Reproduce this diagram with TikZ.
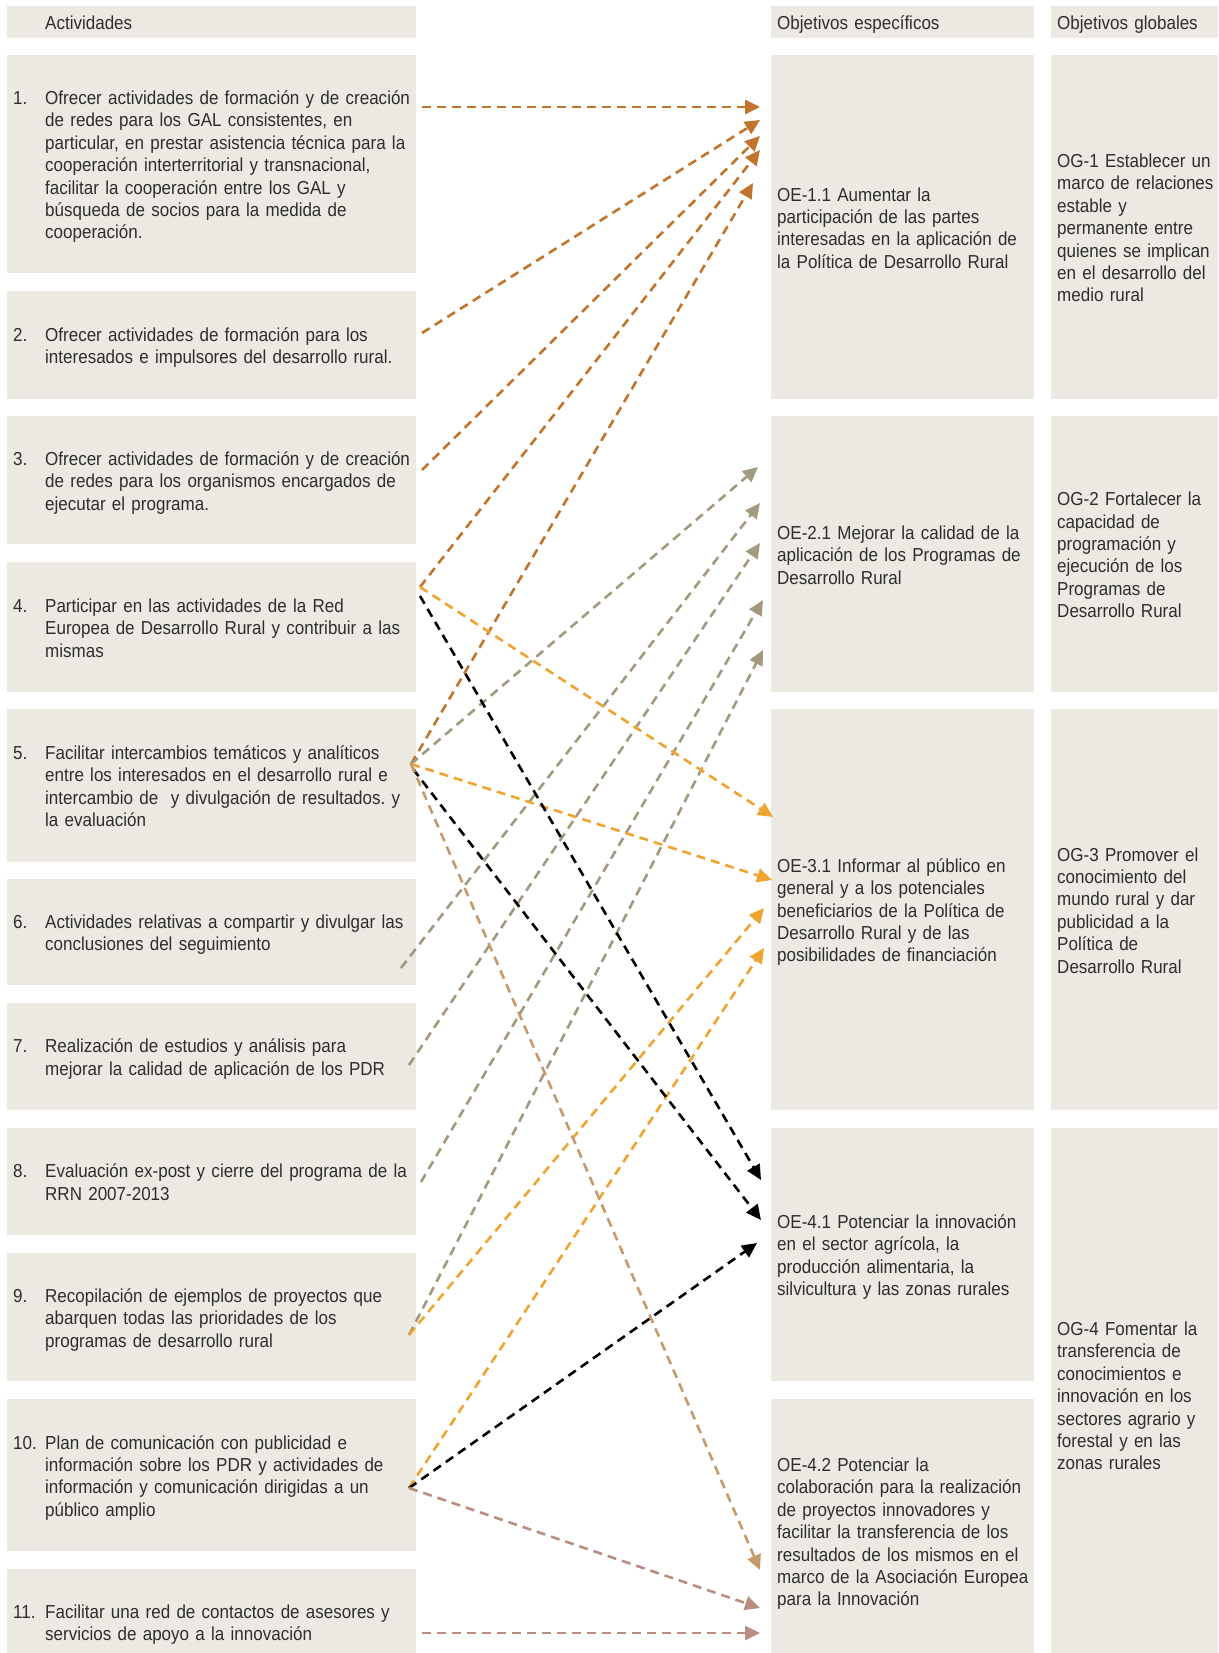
\documentclass[tikz,border=0pt]{standalone}
\usepackage{fontspec}
\setmainfont{Liberation Sans}[FakeStretch=0.905]
\usetikzlibrary{arrows.meta}

\definecolor{boxfill}{RGB}{236,233,227}
\definecolor{txt}{RGB}{45,45,45}
\definecolor{copper}{RGB}{192,116,44}
\definecolor{khaki}{RGB}{163,153,126}
\definecolor{amber}{RGB}{240,164,48}
\definecolor{sand}{RGB}{196,154,110}
\definecolor{rosy}{RGB}{185,142,128}

\frenchspacing
\newcommand{\actlines}[1]{\raisebox{-3pt}[\height][\depth]{\begin{tabular}{@{}p{32pt}@{}l@{}}#1\end{tabular}}}
\newcommand{\oblines}[1]{\raisebox{-3pt}[\height][\depth]{\begin{tabular}{@{}l@{}}#1\end{tabular}}}

\begin{document}
\begin{tikzpicture}[x=1pt, y=-1pt,
  box/.style={fill=boxfill, text=txt, inner xsep=6pt, inner ysep=0pt, anchor=north west, align=left, font=\fontsize{18.8}{22.4}\selectfont},
  actcol/.style={box, text width=397pt},
  oecol/.style={box, text width=251pt},
  ogcol/.style={box, text width=155pt},
  lnk/.style={line width=2.6pt, dash pattern=on 9pt off 6pt, -{Triangle[length=15pt,width=14pt]}}]
  \clip (0,0) rectangle (1218,1653);
  \fill[white] (0,0) rectangle (1218,1653);

  \node[actcol, minimum height=32] (hAct) at (7,6) {\actlines{ & Actividades}};
  \node[oecol, minimum height=32] (hOE) at (771,6) {\oblines{Objetivos específicos}};
  \node[ogcol, minimum height=32] (hOG) at (1051,6) {\oblines{Objetivos globales}};

  \node[actcol, minimum height=218] (act1) at (7,55) {\actlines{1. & Ofrecer actividades de formación y de creación\\ & de redes para los GAL consistentes, en\\ & particular, en prestar asistencia técnica para la\\ & cooperación interterritorial y transnacional,\\ & facilitar la cooperación entre los GAL y\\ & búsqueda de socios para la medida de\\ & cooperación.}};
  \node[actcol, minimum height=108] (act2) at (7,291) {\actlines{2. & Ofrecer actividades de formación para los\\ & interesados e impulsores del desarrollo rural.}};
  \node[actcol, minimum height=128] (act3) at (7,416) {\actlines{3. & Ofrecer actividades de formación y de creación\\ & de redes para los organismos encargados de\\ & ejecutar el programa.}};
  \node[actcol, minimum height=130] (act4) at (7,562) {\actlines{4. & Participar en las actividades de la Red\\ & Europea de Desarrollo Rural y contribuir a las\\ & mismas}};
  \node[actcol, minimum height=153] (act5) at (7,709) {\actlines{5. & Facilitar intercambios temáticos y analíticos\\ & entre los interesados en el desarrollo rural e\\ & intercambio de \ y divulgación de resultados. y\\ & la evaluación}};
  \node[actcol, minimum height=106] (act6) at (7,879) {\actlines{6. & Actividades relativas a compartir y divulgar las\\ & conclusiones del seguimiento}};
  \node[actcol, minimum height=107] (act7) at (7,1003) {\actlines{7. & Realización de estudios y análisis para\\ & mejorar la calidad de aplicación de los PDR}};
  \node[actcol, minimum height=107] (act8) at (7,1128) {\actlines{8. & Evaluación ex-post y cierre del programa de la\\ & RRN 2007-2013}};
  \node[actcol, minimum height=128] (act9) at (7,1253) {\actlines{9. & Recopilación de ejemplos de proyectos que\\ & abarquen todas las prioridades de los\\ & programas de desarrollo rural}};
  \node[actcol, minimum height=152] (act10) at (7,1399) {\actlines{10. & Plan de comunicación con publicidad e\\ & información sobre los PDR y actividades de\\ & información y comunicación dirigidas a un\\ & público amplio}};
  \node[actcol, minimum height=106] (act11) at (7,1569) {\actlines{11. & Facilitar una red de contactos de asesores y\\ & servicios de apoyo a la innovación}};

  \node[oecol, minimum height=344] (oe11) at (771,55) {\oblines{OE-1.1 Aumentar la\\ participación de las partes\\ interesadas en la aplicación de\\ la Política de Desarrollo Rural}};
  \node[oecol, minimum height=276] (oe21) at (771,416) {\oblines{OE-2.1 Mejorar la calidad de la\\ aplicación de los Programas de\\ Desarrollo Rural}};
  \node[oecol, minimum height=401] (oe31) at (771,709) {\oblines{OE-3.1 Informar al público en\\ general y a los potenciales\\ beneficiarios de la Política de\\ Desarrollo Rural y de las\\ posibilidades de financiación}};
  \node[oecol, minimum height=253] (oe41) at (771,1128) {\oblines{OE-4.1 Potenciar la innovación\\ en el sector agrícola, la\\ producción alimentaria, la\\ silvicultura y las zonas rurales}};
  \node[oecol, minimum height=264] (oe42) at (771,1399) {\oblines{OE-4.2 Potenciar la\\ colaboración para la realización\\ de proyectos innovadores y\\ facilitar la transferencia de los\\ resultados de los mismos en el\\ marco de la Asociación Europea\\ para la Innovación}};

  \node[ogcol, minimum height=344] (og1) at (1051,55) {\oblines{OG-1 Establecer un\\ marco de relaciones\\ estable y\\ permanente entre\\ quienes se implican\\ en el desarrollo del\\ medio rural}};
  \node[ogcol, minimum height=276] (og2) at (1051,416) {\oblines{OG-2 Fortalecer la\\ capacidad de\\ programación y\\ ejecución de los\\ Programas de\\ Desarrollo Rural}};
  \node[ogcol, minimum height=401] (og3) at (1051,709) {\oblines{OG-3 Promover el\\ conocimiento del\\ mundo rural y dar\\ publicidad a la\\ Política de\\ Desarrollo Rural}};
  \node[ogcol, minimum height=534] (og4) at (1051,1128) {\oblines{OG-4 Fomentar la\\ transferencia de\\ conocimientos e\\ innovación en los\\ sectores agrario y\\ forestal y en las\\ zonas rurales}};

  \coordinate (s1) at (422,107);
  \coordinate (s2) at (422,333);
  \coordinate (s3) at (422,470);
  \coordinate (s4) at (420,587);
  \coordinate (s4b) at (420,596);
  \coordinate (s5) at (411,764);
  \coordinate (s5b) at (413,769);
  \coordinate (s6) at (401,968);
  \coordinate (s7) at (409,1065);
  \coordinate (s8) at (421,1182);
  \coordinate (s9) at (409,1335);
  \coordinate (s10) at (409,1488);
  \coordinate (s11) at (422,1633);

  \coordinate (t11a) at (760,107);
  \coordinate (t11b) at (760,120);
  \coordinate (t11c) at (760,136);
  \coordinate (t11d) at (760,150);
  \coordinate (t11e) at (753,183);
  \coordinate (t21a) at (758,467);
  \coordinate (t21b) at (760,503);
  \coordinate (t21c) at (760,543);
  \coordinate (t21d) at (763,600);
  \coordinate (t21e) at (763,650);
  \coordinate (t31a) at (773,817);
  \coordinate (t31b) at (772,880);
  \coordinate (t31c) at (764,908);
  \coordinate (t31d) at (764,948);
  \coordinate (t41a) at (761,1180);
  \coordinate (t41b) at (761,1220);
  \coordinate (t41c) at (757,1243);
  \coordinate (t42a) at (760,1570);
  \coordinate (t42b) at (760,1608);
  \coordinate (t42c) at (760,1633);

  \draw[lnk, color=copper] (s1) -- (t11a);
  \draw[lnk, color=copper] (s2) -- (t11b);
  \draw[lnk, color=copper] (s3) -- (t11c);
  \draw[lnk, color=copper] (s4) -- (t11d);
  \draw[lnk, color=copper] (s5) -- (t11e);
  \draw[lnk, color=khaki] (s5) -- (t21a);
  \draw[lnk, color=khaki] (s6) -- (t21b);
  \draw[lnk, color=khaki] (s7) -- (t21c);
  \draw[lnk, color=khaki] (s8) -- (t21d);
  \draw[lnk, color=khaki] (s9) -- (t21e);
  \draw[lnk, color=amber] (s4) -- (t31a);
  \draw[lnk, color=amber] (s5) -- (t31b);
  \draw[lnk, color=amber] (s9) -- (t31c);
  \draw[lnk, color=amber] (s10) -- (t31d);
  \draw[lnk, color=black] (s4b) -- (t41a);
  \draw[lnk, color=black] (s5b) -- (t41b);
  \draw[lnk, color=black] (s10) -- (t41c);
  \draw[lnk, color=sand] (s5) -- (t42a);
  \draw[lnk, color=rosy] (s10) -- (t42b);
  \draw[lnk, color=rosy] (s11) -- (t42c);
\end{tikzpicture}
\end{document}
